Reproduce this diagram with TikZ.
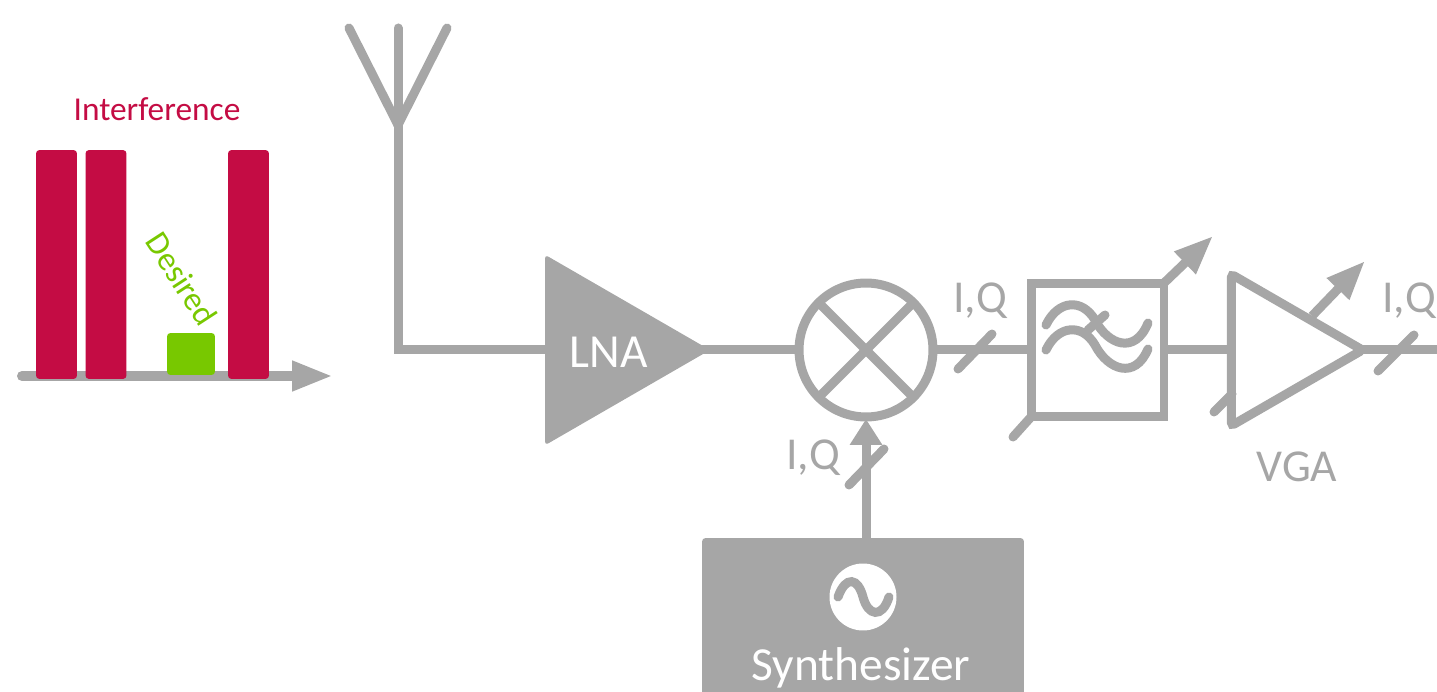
\documentclass[tikz,border=0pt]{standalone}
\usepackage{fontspec}
\setmainfont{Carlito}
\usetikzlibrary{arrows.meta,shapes.geometric}
\definecolor{rxgray}{HTML}{A6A6A6}
\definecolor{rxred}{HTML}{C40C44}
\definecolor{rxgreen}{HTML}{78C800}
\tikzset{
    wire/.style={draw=rxgray, line width=.18cm},
    slash/.style={draw=rxgray, line width=.18cm, line cap=round},
    bar/.style={rectangle, fill=rxred, rounded corners=2pt, minimum width=.82cm, minimum height=4.58cm, inner sep=0pt, outer sep=0pt},
    amp/.style={regular polygon, regular polygon sides=3, shape border rotate=-90, inner sep=0pt, outer sep=0pt, rounded corners=2pt},
    label/.style={text=rxgray, font=\fontsize{26pt}{26pt}\selectfont, inner sep=0pt},
    tune/.style={wire, -{Triangle[length=.78cm,width=.58cm]}}
}
\begin{document}
\begin{tikzpicture}[x=0.02cm, y=-0.02cm]
    \path[use as bounding box, clip] (0,0) rectangle (1437,692);

    % Spectrum
    \coordinate (axl) at (22,376);
    \coordinate (axr) at (333,376);
    \draw[draw=rxgray, line width=.2cm, line cap=round, -{Triangle[length=.82cm,width=.56cm]}] (axl) -- (axr);
    \node[bar] (bar1) at (56.5,264.5) {};
    \node[bar] (bar2) at (106,264.5) {};
    \node[bar] (bar3) at (248.5,264.5) {};
    \node[rectangle, fill=rxgreen, rounded corners=2pt, minimum width=.96cm, minimum height=.84cm, inner sep=0pt, outer sep=0pt] (want) at (191,354) {};
    \node[text=rxred, font=\fontsize{19pt}{19pt}\selectfont, inner sep=0pt] (intf) at (157,109) {Interference};
    \node[text=rxgreen, font=\fontsize{19pt}{19pt}\selectfont, inner sep=0pt, rotate=-57] (wanttxt) at (182,279) {Desired};

    % Antenna
    \coordinate (anttop) at (398,28);
    \coordinate (antl) at (349,28);
    \coordinate (antr) at (447,28);
    \coordinate (antfoot) at (398,125);
    \draw[wire, line cap=round] (antl) -- (antfoot);
    \draw[wire, line cap=round] (antr) -- (antfoot);

    % Blocks
    \node[amp, fill=rxgray, minimum size=4.4cm] (lna) at (600,350) {};
    \node[circle, draw=rxgray, line width=.18cm, fill=white, minimum size=2.68cm, inner sep=0pt, outer sep=0pt] (mix) at (866,350) {};
    \node[rectangle, draw=rxgray, line width=.18cm, fill=white, minimum width=2.66cm, minimum height=2.68cm, inner sep=0pt, outer sep=0pt] (lpf) at (1097.5,350) {};
    \node[amp, draw=rxgray, line width=.18cm, fill=white, minimum size=3.5cm] (vga) at (1275,350) {};
    \node[rectangle, fill=rxgray, rounded corners=2pt, minimum width=6.44cm, minimum height=4.4cm, inner sep=0pt, outer sep=0pt] (synth) at (863,648) {};
    \node[circle, fill=white, minimum size=1.34cm, inner sep=0pt, outer sep=0pt] (osc) at (863,597) {};
    \node[text=white, font=\fontsize{27pt}{27pt}\selectfont, inner sep=0pt] (synthtxt) at (861,668) {Synthesizer};

    % Signal path
    \draw[wire, line cap=round] (anttop) |- (lna.west);
    \draw[wire] (lna.center) -- (mix.west);
    \draw[wire] (mix.east) -- (lpf.west);
    \draw[wire] (lpf.east) -- (vga.west);
    \coordinate (out) at (1437,350);
    \draw[wire] (vga.east) -- (out);
    \draw[wire] (mix.45) -- (mix.225);
    \draw[wire] (mix.135) -- (mix.315);
    \coordinate (synthtop) at (866,538);
    \coordinate (mixin) at (866,419);
    \draw[wire, -{Triangle[length=.52cm,width=.62cm]}] (synthtop) -- (mixin);
    \node[text=white, font=\fontsize{27pt}{27pt}\selectfont, inner sep=0pt] (lnatxt) at (609,352) {LNA};

    % Filter symbol
    \draw[wire, line cap=round] (1046,325) .. controls (1058,300) and (1082,298) .. (1095,320) .. controls (1108,345) and (1135,355) .. (1148,323);
    \draw[wire, line cap=round] (1046,350) .. controls (1058,325) and (1082,323) .. (1095,345) .. controls (1108,370) and (1135,380) .. (1148,349);
    \coordinate (wava) at (1088,330);
    \coordinate (wavb) at (1105,315);
    \draw[slash] (wava) -- (wavb);

    % Oscillator
    \draw[wire, line cap=round] (838,597) .. controls (846,575) and (858,578) .. (863,597) .. controls (868,616) and (882,619) .. (889,597);

    % Tuning
    \coordinate (lpftip) at (1213,236);
    \draw[tune] (lpf.north east) -- (lpftip);
    \coordinate (vgabase) at (1312,316);
    \coordinate (vgatip) at (1365,261);
    \draw[tune] (vgabase) -- (vgatip);
    \coordinate (lpfctl) at (1013,437);
    \draw[slash] (lpf.south west) -- (lpfctl);
    \coordinate (vgactl) at (1214,412);
    \coordinate (vgaedge) at (1232,394);
    \draw[slash] (vgaedge) -- (vgactl);

    % Bus marks
    \coordinate (busa1) at (958,369);
    \coordinate (busa2) at (992,334);
    \draw[slash] (busa1) -- (busa2);
    \coordinate (busb1) at (1378,371);
    \coordinate (busb2) at (1414,335);
    \draw[slash] (busb1) -- (busb2);
    \coordinate (busc1) at (849,485);
    \coordinate (busc2) at (884,449);
    \draw[slash] (busc1) -- (busc2);

    % Labels
    \node[label] (iqa) at (980,301) {I,Q};
    \node[label] (iqb) at (1409,301) {I,Q};
    \node[label] (iqc) at (813,458) {I,Q};
    \node[label] (vgatxt) at (1297,467) {VGA};
\end{tikzpicture}
\end{document}
